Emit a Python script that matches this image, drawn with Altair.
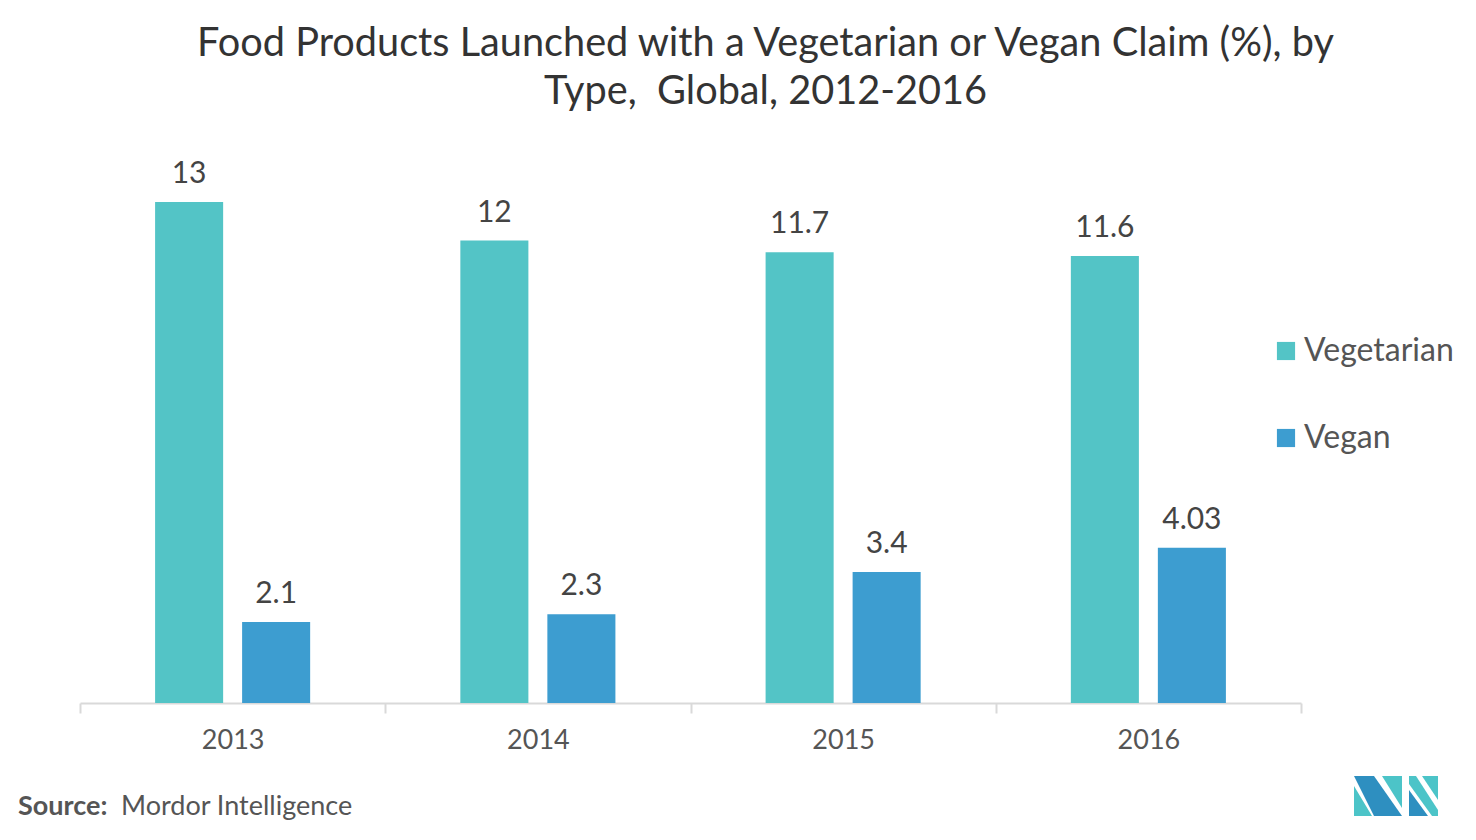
import altair as alt
import pandas as pd
import urllib.parse

years = ["2013", "2014", "2015", "2016"]
vegetarian = [13, 12, 11.7, 11.6]
vegan = [2.1, 2.3, 3.4, 4.03]
vegan_labels = ["2.1", "2.3", "3.4", "4.03"]
veg_labels = ["13", "12", "11.7", "11.6"]
series = ["Vegetarian", "Vegan"]
colors = ["#53c4c6", "#3d9dd0"]

rows = []
for i, y in enumerate(years):
    rows.append({"year": y, "type": "Vegetarian", "value": vegetarian[i], "label": veg_labels[i]})
    rows.append({"year": y, "type": "Vegan", "value": vegan[i], "label": vegan_labels[i]})
df = pd.DataFrame(rows)

FONT = "Lato"

x = alt.X("year:N", sort=years, title=None,
          scale=alt.Scale(paddingInner=0, paddingOuter=0),
          axis=alt.Axis(labelFont=FONT, labelFontSize=27, labelColor="#555555",
                        labelPadding=14, domainColor="#d9d9d9", domainWidth=2,
                        tickColor="#d9d9d9", tickWidth=2, tickSize=10, tickBand="extent",
                        labelAngle=0))
xo = alt.XOffset("type:N", sort=series,
                 scale=alt.Scale(paddingInner=0.218, paddingOuter=0.863))
y = alt.Y("value:Q", scale=alt.Scale(domain=[0, 15]), axis=None, title=None)

bars = alt.Chart(df).mark_bar().encode(
    x=x, xOffset=xo, y=y,
    color=alt.Color("type:N", sort=series,
                    scale=alt.Scale(domain=series, range=colors),
                    legend=alt.Legend(title=None, orient="none", legendX=1190, legendY=210,
                                      symbolType="square", symbolSize=330,
                                      symbolStrokeWidth=0, labelFont=FONT,
                                      labelFontSize=32, labelColor="#555555",
                                      rowPadding=55, labelOffset=2)),
)

labels = alt.Chart(df).mark_text(dy=-13, baseline="bottom", font=FONT, fontSize=30,
                                 color="#444444").encode(
    x=x, xOffset=xo, y=y, text="label:N")

source1 = alt.Chart(pd.DataFrame({"t": ["Source:"]})).mark_text(
    align="left", baseline="alphabetic", font=FONT, fontSize=27, fontWeight="bold",
    color="#555555").encode(x=alt.value(-62), y=alt.value(690), text="t:N")
source2 = alt.Chart(pd.DataFrame({"t": ["Mordor Intelligence"]})).mark_text(
    align="left", baseline="alphabetic", font=FONT, fontSize=27,
    color="#555555").encode(x=alt.value(41), y=alt.value(690), text="t:N")

logo_svg = (
    "<svg xmlns='http://www.w3.org/2000/svg' width='84' height='40' viewBox='0 0 84 40'>"
    "<polygon points='0,0 20,0 48,40 20,40' fill='#2e8fc0'/>"
    "<polygon points='0,10 18,40 0,40' fill='#4cc4c8'/>"
    "<polygon points='28,0 48,0 48,32' fill='#4cc4c8'/>"
    "<polygon points='55,0 62,0 84,34 84,40 78,40 55,8' fill='#4cc4c8'/>"
    "<polygon points='55,14 74,40 55,40' fill='#2e8fc0'/>"
    "<polygon points='68,0 84,0 84,24' fill='#4cc4c8'/>"
    "</svg>"
)
logo_url = "data:image/svg+xml;charset=utf-8," + urllib.parse.quote(logo_svg)
logo = alt.Chart(pd.DataFrame({"u": [logo_url]})).mark_image(width=84, height=40).encode(
    x=alt.value(1316), y=alt.value(671), url="u:N")

chart = alt.layer(bars, labels, source1, source2, logo).properties(
    width=1221, height=578,
    background="white",
    title=alt.TitleParams(
        ["Food Products Launched with a Vegetarian or Vegan Claim (%), by",
         "Type,\u00a0 Global, 2012-2016"],
        font=FONT, fontSize=39.7, fontWeight="normal", color="#333333",
        lineHeight=48, anchor="middle", offset=12, dx=75),
    autosize=alt.AutoSizeParams(type="none"),
    padding={"left": 72, "top": 117, "right": 160, "bottom": 135},
).configure_view(stroke=None)

chart.save("out.html", embed_options={"renderer": "svg", "actions": False})
